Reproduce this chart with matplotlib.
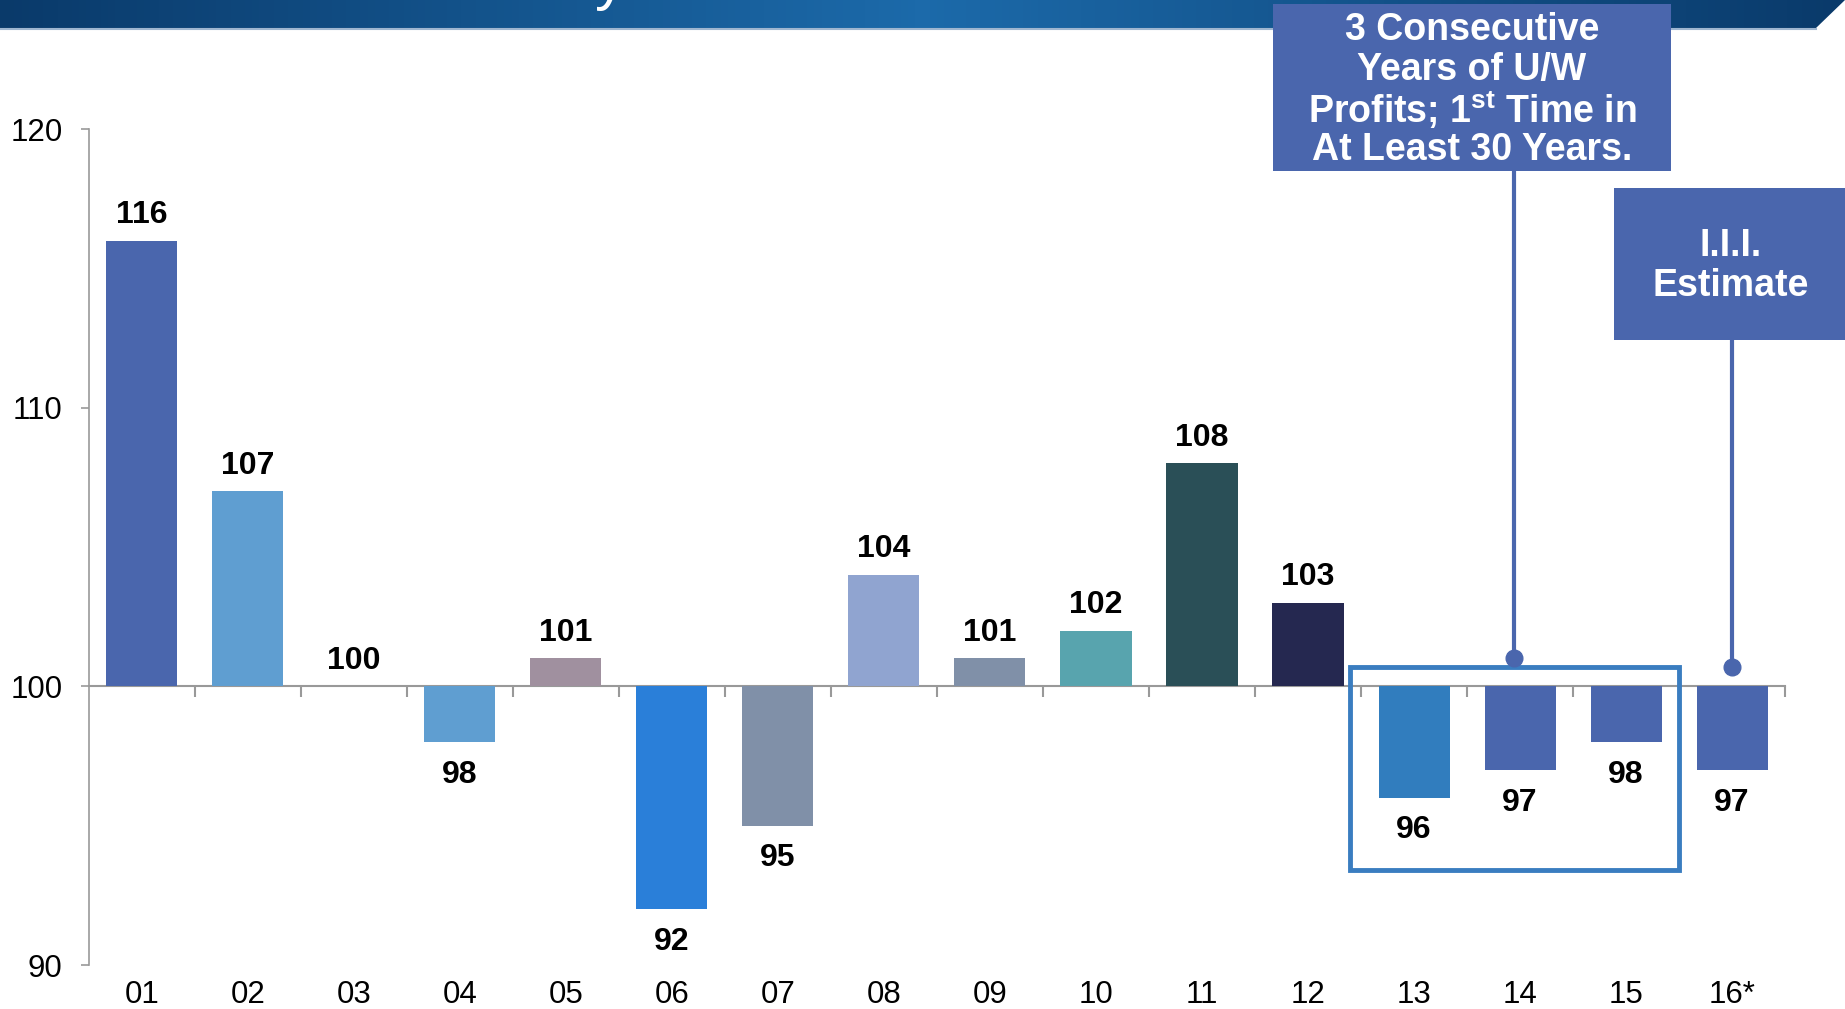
import numpy as np
import matplotlib
matplotlib.use("Agg")
import matplotlib.pyplot as plt
from matplotlib.patches import Rectangle, Polygon

plt.rcParams["font.family"] = ["Liberation Sans", "DejaVu Sans"]
plt.rcParams["mathtext.fontset"] = "custom"
plt.rcParams["mathtext.rm"] = "Liberation Sans:bold"
plt.rcParams["mathtext.it"] = "Liberation Sans:bold"
plt.rcParams["mathtext.bf"] = "Liberation Sans:bold"

# data
years = ["01", "02", "03", "04", "05", "06", "07", "08",
         "09", "10", "11", "12", "13", "14", "15", "16*"]
ratio = [116, 107, 100, 98, 101, 92, 95, 104,
         101, 102, 108, 103, 96, 97, 98, 97]
bar_colors = ["#4A66AD", "#5F9ED1", "#4A66AD", "#5F9ED1", "#A0909F", "#2A7FD9",
              "#8090A8", "#90A4D0", "#8090A8", "#58A4AE", "#2A4F57", "#252850",
              "#317DBE", "#4A66AD", "#4A66AD", "#4A66AD"]
callout1 = ["3 Consecutive", "Years of U/W",
            "Profits; 1$^{\\rm st}$ Time in", "At Least 30 Years."]
callout2 = ["I.I.I.", "Estimate"]
base = 100

fig = plt.figure(figsize=(18.45, 10.09), dpi=100)
ax = fig.add_axes([0.0482, 0.0436, 0.9193, 0.8285])

x = np.arange(len(years))
heights = [v - base for v in ratio]
ax.bar(x, heights, bottom=base, width=0.67, color=bar_colors, zorder=2)

for xi, v in zip(x, ratio):
    if v >= base:
        ax.annotate(str(v), (xi, v), xytext=(0, 18.5), textcoords="offset points",
                    ha="center", va="center", fontsize=23, fontweight="bold")
    else:
        ax.annotate(str(v), (xi, v), xytext=(0, -23.5), textcoords="offset points",
                    ha="center", va="center", fontsize=23, fontweight="bold")

ax.set_xlim(-0.5, len(years) - 0.5)
ax.set_ylim(90, 120)
ax.set_yticks([90, 100, 110, 120])
ax.tick_params(axis="y", direction="out", length=6, width=1.2, color="#999999",
               labelsize=22.5, pad=13)
ax.set_xticks(x)
ax.set_xticklabels(years)
ax.tick_params(axis="x", length=0, labelsize=22.5, pad=11)
for s in ["top", "right", "bottom"]:
    ax.spines[s].set_visible(False)
ax.spines["left"].set_color("#999999")
ax.spines["left"].set_linewidth(1.2)

# baseline axis at 100 with boundary ticks
sec = ax.secondary_xaxis((base - 90) / 30)
sec.set_xticks(np.arange(0.5, len(years), 1.0))
sec.tick_params(axis="x", direction="out", length=8, width=1.5, color="#999999",
                labelbottom=False)
sec.set_xticklabels([])
sec.spines["bottom"].set_color("#999999")
sec.spines["bottom"].set_linewidth(1.5)

# highlight box around 13-15
ax.add_patch(Rectangle((11.4, 93.4), 3.1, 7.3, fill=False, edgecolor="#3A7DC0",
                       linewidth=3.5, zorder=4, clip_on=False))

# connector lines to callouts
ax.plot([12.94, 12.94], [101.0, 118.5], color="#4A66AD", lw=3, clip_on=False, zorder=5)
ax.plot([12.94], [101.0], "o", color="#4A66AD", ms=12, clip_on=False, zorder=5)
ax.plot([15, 15], [100.7, 112.4], color="#4A66AD", lw=3, clip_on=False, zorder=5)
ax.plot([15], [100.7], "o", color="#4A66AD", ms=12, clip_on=False, zorder=5)

# header band
grad = np.linspace(0, 1, 256)
band = np.abs(grad - 0.5) * 2
cmap = matplotlib.colors.LinearSegmentedColormap.from_list(
    "hdr", ["#1C6AAA", "#0A3A6A"])
hax = fig.add_axes([0, 1 - 28 / 1009, 1, 28 / 1009])
hax.imshow(band[np.newaxis, :], aspect="auto", cmap=cmap, extent=[0, 1, 0, 1])
hax.add_patch(Polygon([[1816 / 1845, 0], [1, 0], [1, 1]], closed=True,
                      facecolor="white", edgecolor="none"))
hax.set_xlim(0, 1)
hax.set_ylim(0, 1)
hax.axis("off")
fig.add_artist(plt.Line2D([0, 1816 / 1845], [1 - 29 / 1009] * 2,
                          color="#9FB6D0", lw=1.5))
# bottom of the (cropped) slide title
fig.text(0.3305, 1 + 2 / 1009, "y", color="white", fontsize=44,
         ha="center", va="baseline")

# callout boxes
box_color = "#4A66AD"
fig.add_artist(Rectangle((1273 / 1845, 1 - 171 / 1009), 398 / 1845, 167 / 1009,
                         transform=fig.transFigure, facecolor=box_color,
                         edgecolor="none", zorder=6))
for i, line in enumerate(callout1):
    fig.text(1472 / 1845, 1 - (26 + 40 * i) / 1009, line,
             color="white", fontsize=27, fontweight="bold", ha="center",
             va="center_baseline", zorder=7)
fig.add_artist(Rectangle((1614 / 1845, 1 - 340 / 1009), 231 / 1845, 152 / 1009,
                         transform=fig.transFigure, facecolor=box_color,
                         edgecolor="none", zorder=6))
for i, line in enumerate(callout2):
    fig.text(1731 / 1845, 1 - (242 + 40 * i) / 1009, line,
             color="white", fontsize=27, fontweight="bold", ha="center",
             va="center_baseline", zorder=7)

fig.savefig("out.png", dpi=100)
